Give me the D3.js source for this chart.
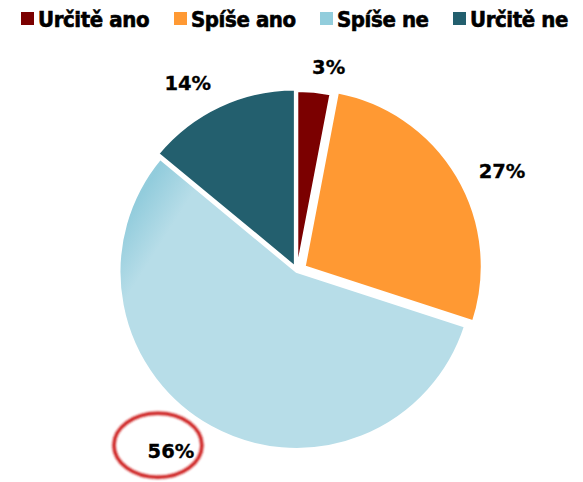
<!DOCTYPE html>
<html>
<head>
<meta charset="utf-8">
<script src="https://cdn.jsdelivr.net/npm/d3@7"></script>
<style>
  body { margin: 0; background: #fff; }
  svg { display: block; }
</style>
</head>
<body>
<div id="chart"></div>
<script>
// chart values
const categories = ['Určitě ano', 'Spíše ano', 'Spíše ne', 'Určitě ne']
const values = [3, 27, 56, 14]
const sliceColors = ['#7B0000', '#FF9933', '#B7DDE8', '#235F6E']
const legendColors = ['#7B0000', '#FF9933', '#92CDDC', '#235F6E']
const explode = [3, 9, 1, 5]

const width = 583
const height = 482
const cx = 297
const cy = 271
const radius = 177

const svg = d3.select('#chart').append('svg')
  .attr('width', width)
  .attr('height', height)

// gradient band on the big slice near its upper-left edge
const defs = svg.append('defs')
const grad = defs.append('linearGradient')
  .attr('id', 'blueBand')
  .attr('gradientUnits', 'userSpaceOnUse')
  .attr('x1', 95 - cx).attr('y1', 165 - cy)
  .attr('x2', 205 - cx).attr('y2', 235 - cy)
grad.append('stop').attr('offset', 0).attr('stop-color', '#B7DDE8')
grad.append('stop').attr('offset', 0.42).attr('stop-color', '#92CCDC')
grad.append('stop').attr('offset', 0.75).attr('stop-color', '#B7DDE8')
grad.append('stop').attr('offset', 1).attr('stop-color', '#B7DDE8')

const blur = defs.append('filter').attr('id', 'soft')
blur.append('feGaussianBlur').attr('stdDeviation', 0.8)

// legend
const legendX = [21, 174, 320, 453]
const legend = svg.append('g').attr('class', 'legend')
categories.forEach((name, i) => {
  const g = legend.append('g').attr('transform', `translate(${legendX[i]},0)`)
  g.append('rect')
    .attr('x', 0).attr('y', 12)
    .attr('width', 13).attr('height', 13)
    .attr('fill', legendColors[i])
  g.append('text')
    .attr('x', 17).attr('y', 26.5)
    .attr('font-family', 'DejaVu Sans Condensed, DejaVu Sans, sans-serif')
    .attr('font-weight', 'bold')
    .attr('font-size', 22)
    .attr('letter-spacing', -0.4)
    .attr('fill', '#000')
    .attr('stroke', '#000')
    .attr('stroke-width', 0.6)
    .text(name)
})

// pie
const pie = d3.pie().sort(null).value(d => d)
const arcs = pie(values)
const arc = d3.arc().innerRadius(0).outerRadius(radius)
const shift = (d, i) => {
  const a = (d.startAngle + d.endAngle) / 2
  return [Math.sin(a) * explode[i], -Math.cos(a) * explode[i]]
}

const slices = svg.append('g').attr('transform', `translate(${cx},${cy})`)

slices.selectAll('path.slice')
  .data(arcs)
  .join('path')
  .attr('class', 'slice')
  .attr('transform', (d, i) => `translate(${shift(d, i)})`)
  .attr('d', arc)
  .attr('fill', (d, i) => sliceColors[i])
  .attr('stroke', '#fff')
  .attr('stroke-width', 2)
  .attr('stroke-linejoin', 'round')

// overlay for the darker band on the big slice
slices.append('path')
  .attr('transform', `translate(${shift(arcs[2], 2)})`)
  .attr('d', arc(arcs[2]))
  .attr('fill', 'url(#blueBand)')
  .attr('stroke', '#fff')
  .attr('stroke-width', 2)

// labels outside each slice
const labelR = 200
const labelNudge = [[11, 10], [5, 13], [-18, -6], [-12, 8]]
const labels = svg.append('g').attr('transform', `translate(${cx},${cy})`)
arcs.forEach((d, i) => {
  const a = (d.startAngle + d.endAngle) / 2
  const s = Math.sin(a)
  const c = Math.cos(a)
  const t = labels.append('text')
    .attr('font-family', 'DejaVu Sans, Verdana, sans-serif')
    .attr('font-weight', 'bold')
    .attr('font-size', 19.5)
    .attr('fill', '#000')
    .attr('stroke', '#000')
    .attr('stroke-width', 0.3)
    .attr('text-anchor', 'middle')
    .attr('dominant-baseline', 'central')
    .text(values[i] + '%')
  const box = t.node().getBBox()
  const [ex, ey] = shift(d, i)
  const ox = ex + s * labelR + s * box.width / 2 + labelNudge[i][0]
  const oy = ey - c * labelR - c * box.height / 2 + labelNudge[i][1]
  t.attr('x', ox).attr('y', oy)
  if (i === 2) {
    // highlight ring around the biggest answer
    labels.append('ellipse')
      .attr('cx', ox - 13).attr('cy', oy - 6)
      .attr('rx', 44).attr('ry', 32)
      .attr('fill', 'none')
      .attr('stroke', '#CC1A1A')
      .attr('stroke-width', 3.5)
      .attr('filter', 'url(#soft)')
  }
})
</script>
</body>
</html>
